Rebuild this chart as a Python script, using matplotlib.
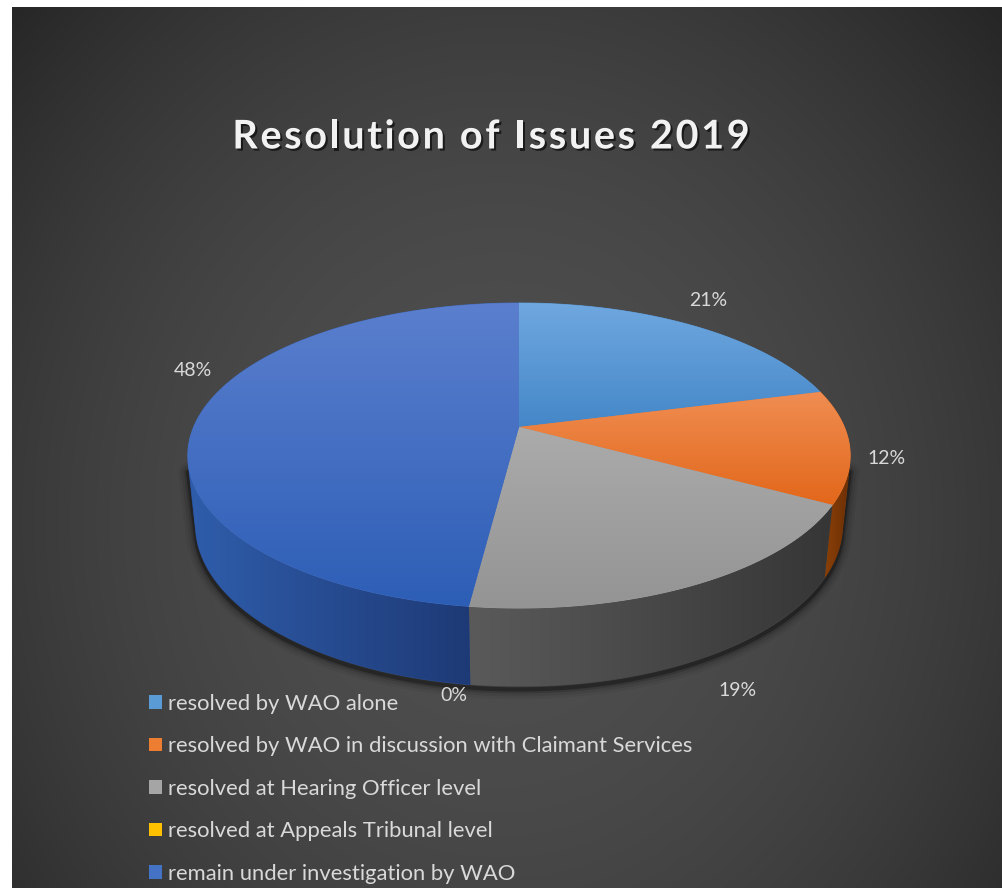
import numpy as np
import matplotlib
matplotlib.use("Agg")
import matplotlib.pyplot as plt
from matplotlib.patches import Polygon, Patch
import matplotlib.patheffects as pe
from matplotlib.colors import to_rgb
from matplotlib.font_manager import FontProperties

# ---------------- data ----------------
categories = [
    "resolved by WAO alone",
    "resolved by WAO in discussion with Claimant Services",
    "resolved at Hearing Officer level",
    "resolved at Appeals Tribunal level",
    "remain under investigation by WAO",
]
shares = [21, 12, 19, 0, 48]
pct_labels = ["21%", "12%", "19%", "0%", "48%"]
title = "Resolution of Issues 2019"

# ---------------- styles ----------------
legend_colors = ["#5b9bd5", "#ed7d31", "#a5a5a5", "#ffc000", "#4472c4"]
top_colors = [("#70a8e0", "#4487c8"), ("#f08d52", "#e2671a"), ("#ababab", "#949494"),
              ("#ffc000", "#f0b000"), ("#5b7fce", "#2d5eb6")]
side_colors = [("#3f79b3", "#2f5f8f"), ("#8a4008", "#6a2e05"), ("#5a5a5a", "#363636"),
               ("#b38600", "#8a6800"), ("#2f5dab", "#1e3a76")]
label_pos = [(708, 300), (887, 458), (738, 690), (454, 695), (193, 370)]

W, H = 1003, 888
fig = plt.figure(figsize=(W / 100, H / 100), dpi=100, facecolor="white")
ax = fig.add_axes([0, 0, 1, 1])
ax.set_xlim(0, W)
ax.set_ylim(H, 0)
ax.axis("off")

# background radial gradient
yy, xx = np.mgrid[8:H, 12:W]
d2 = ((xx - 500) / 700.0) ** 2 + ((yy - 520) / 800.0) ** 2
val = (79 - 45 * np.clip(d2, 0, 1)) / 255.0
ax.imshow(np.dstack([val, val, val]), extent=[12, W, H, 8], origin="upper",
          zorder=0, interpolation="bilinear", aspect="auto")

# ---------------- 3D projection ----------------
PHI = np.radians(26.9)
DIST = 4.77
FOC = 1552.0
CX, CY = 519.0, 427.0
DEPTH = 0.24


def proj(theta, r=1.0, y=0.0):
    X = r * np.cos(theta)
    Z = r * np.sin(theta)
    yc = y * np.cos(PHI) + Z * np.sin(PHI)
    zc = -y * np.sin(PHI) + Z * np.cos(PHI) + DIST
    return CX + FOC * X / zc, CY - FOC * yc / zc


def grad_poly(xs, ys, c0, c1, horizontal=False, z=2):
    xs = np.asarray(xs); ys = np.asarray(ys)
    c0 = np.array(to_rgb(c0)); c1 = np.array(to_rgb(c1))
    mid = (c0 + c1) / 2
    base = Polygon(np.column_stack([xs, ys]), closed=True, facecolor=mid,
                   edgecolor=mid, lw=0.6, zorder=z)
    ax.add_patch(base)
    clip = Polygon(np.column_stack([xs, ys]), closed=True, facecolor="none",
                   edgecolor="none", zorder=z)
    ax.add_patch(clip)
    t = np.linspace(0, 1, 256)
    cols = c0[None, :] * (1 - t[:, None]) + c1[None, :] * t[:, None]
    img = cols[None, :, :] if horizontal else cols[:, None, :]
    im = ax.imshow(img, extent=[xs.min(), xs.max(), ys.max(), ys.min()],
                   origin="upper", zorder=z + 0.01, aspect="auto",
                   interpolation="bilinear")
    im.set_clip_path(clip)


total = float(sum(shares))
cum = np.concatenate([[0], np.cumsum(shares)])
edges = np.radians(90 - 360 * cum / total)  # clockwise from top

sil = np.arcsin(1.0 / (DIST * np.cos(PHI)))
vis_hi = -sil
vis_lo = -np.pi + sil

# shadow under pie
tt = np.linspace(vis_lo - 0.02, vis_hi + 0.02, 300)
bx, by = proj(tt, 1.0, -DEPTH)
tx_l, ty_l = proj(np.array([vis_lo]), 1.0, 0.0)
tx_r, ty_r = proj(np.array([vis_hi]), 1.0, 0.0)
ox = np.concatenate([tx_l, bx, tx_r])
oy = np.concatenate([ty_l + 6, by, ty_r + 6]) + 3
for lw, a in [(14, 0.05), (10, 0.08), (6, 0.14), (3, 0.3)]:
    ax.plot(ox, oy, color="black", lw=lw, alpha=a, zorder=1.5,
            solid_capstyle="round", solid_joinstyle="round")

# side faces
for i in range(len(shares)):
    a, b = edges[i], edges[i + 1]
    hi, lo = min(a, vis_hi), max(b, vis_lo)
    if hi <= lo or shares[i] == 0:
        continue
    t = np.linspace(hi, lo, 120)
    x1, y1 = proj(t, 1.0, 0.0)
    x2, y2 = proj(t[::-1], 1.0, -DEPTH)
    grad_poly(np.concatenate([x1, x2]), np.concatenate([y1, y2]),
              side_colors[i][0], side_colors[i][1], horizontal=True, z=2)

# top faces
for i in range(len(shares)):
    if shares[i] == 0:
        continue
    a, b = edges[i], edges[i + 1]
    t = np.linspace(a, b, 200)
    x1, y1 = proj(t, 1.0, 0.0)
    xs = np.concatenate([[CX], x1])
    ys = np.concatenate([[CY], y1])
    grad_poly(xs, ys, top_colors[i][0], top_colors[i][1], horizontal=False, z=3)

# percentage labels
for lab, (lx, ly) in zip(pct_labels, label_pos):
    ax.text(lx, ly, lab, ha="center", va="center", fontsize=14,
            family="Lato", color="#d9d9d9", zorder=5)

# title with letter spacing
renderer = fig.canvas.get_renderer()
tfp = FontProperties(family="Lato", weight="bold", size=28.5)


def twidth(s):
    if not s:
        return 0.0
    w, _, _ = renderer.get_text_width_height_descent(s, tfp, ismath=False)
    return w


SPACING = 2.6
full_w = twidth(title) + SPACING * (len(title) - 1)
x0 = 491 - full_w / 2
shadow = [pe.withSimplePatchShadow(offset=(1.5, -1.5), shadow_rgbFace="black", alpha=0.6)]
for i, ch in enumerate(title):
    if ch == " ":
        continue
    ax.text(x0 + twidth(title[:i]) + SPACING * i, 137, ch, ha="left", va="center",
            fontproperties=tfp, color="#f2f2f2", zorder=5, path_effects=shadow)

# legend
handles = [Patch(facecolor=c, edgecolor="none") for c in legend_colors]
leg = ax.legend(handles, categories, loc="upper left",
                bbox_to_anchor=(149 / W, 1 - 694 / H), frameon=False,
                borderpad=0, borderaxespad=0,
                handlelength=0.58, handleheight=0.58, handletextpad=0.28,
                labelspacing=1.02, labelcolor="#d9d9d9",
                prop={"family": "Lato", "size": 15.8})
leg.set_zorder(6)

fig.savefig("out.png", dpi=100, facecolor="white")
